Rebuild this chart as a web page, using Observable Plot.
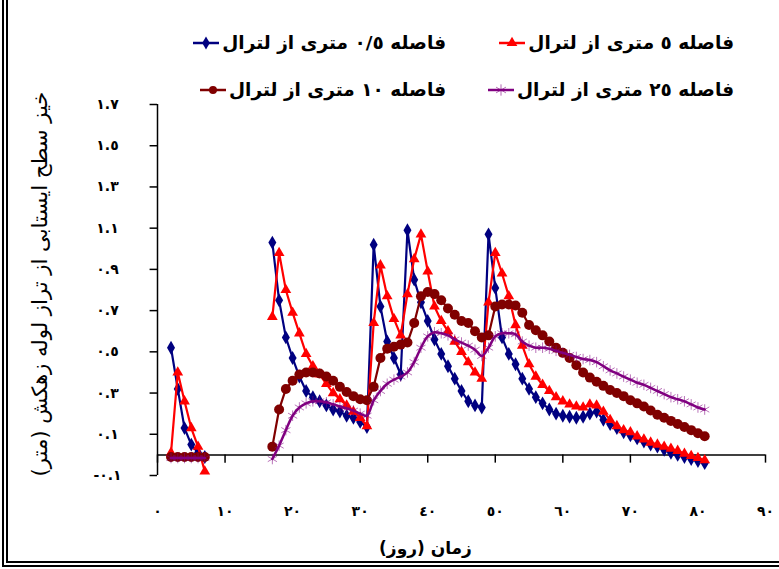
<!DOCTYPE html>
<html><head><meta charset="utf-8">
<script src="https://cdn.jsdelivr.net/npm/d3@7"></script>
<script src="https://cdn.jsdelivr.net/npm/@observablehq/plot@0.6"></script>
<style>
html,body{margin:0;padding:0;background:#fff;}
#wrap{position:relative;width:779px;height:569px;overflow:hidden;font-family:"DejaVu Sans",sans-serif;}
#frame{position:absolute;left:2px;top:-10px;width:820px;height:577px;border-left:6px double #000;border-bottom:6px double #000;box-sizing:border-box;pointer-events:none;}
.leg{position:absolute;direction:rtl;white-space:nowrap;font-size:18.5px;font-weight:bold;display:flex;align-items:center;gap:3px;color:#000;}
.leg svg{display:block;}
#chart{position:absolute;left:0;top:0;}
</style></head>
<body><div id="wrap"><div id="chart"></div><div id="frame"></div></div>
<script>
const days = [1,2,3,4,5,6,7,8,9,10,11,12,13,14,15,16,17,18,19,20,21,22,23,24,25,26,27,28,29,30,31,32,33,34,35,36,37,38,39,40,41,42,43,44,45,46,47,48,49,50,51,52,53,54,55,56,57,58,59,60,61,62,63,64,65,66,67,68,69,70,71,72,73,74,75,76,77,78,79,80,81];

const s05 = [null,0.52,0.32,0.13,0.05,0.01,-0.01,
 null,null,null,null,null,null,null,null,null,
 1.03,0.75,0.57,0.47,0.38,0.31,0.28,0.26,0.24,0.22,0.21,0.19,0.18,0.16,0.135,
 1.02,0.72,0.55,0.47,0.39,
 1.09,0.85,0.74,0.65,0.56,0.49,0.43,0.37,0.31,0.26,0.24,0.23,
 1.07,0.81,0.57,0.49,0.44,0.37,0.32,0.28,0.25,0.22,0.20,0.19,0.185,0.18,0.185,0.20,0.21,0.17,0.15,0.13,0.11,0.095,0.08,0.065,0.05,0.04,0.025,0.01,0.0,-0.01,-0.02,-0.03,-0.04];

const s5 = [null,0.01,0.40,0.26,0.13,0.04,-0.08,
 null,null,null,null,null,null,null,null,null,
 0.67,0.98,0.80,0.69,0.59,0.49,0.43,0.39,0.345,0.30,0.27,0.24,0.21,0.18,0.14,
 0.64,0.92,0.77,0.66,0.58,
 0.78,0.95,1.07,0.89,0.72,0.65,0.60,0.55,0.50,0.45,0.40,0.37,
 0.74,0.98,0.88,0.77,0.63,0.53,0.44,0.38,0.34,0.31,0.28,0.26,0.245,0.235,0.23,0.245,0.24,0.21,0.17,0.14,0.12,0.11,0.09,0.075,0.06,0.05,0.04,0.03,0.02,0.006,-0.005,-0.015,-0.026];

const s10 = [null,-0.01,-0.01,-0.01,-0.01,-0.01,-0.01,
 null,null,null,null,null,null,null,null,null,
 0.04,0.22,0.32,0.36,0.39,0.40,0.40,0.395,0.38,0.36,0.33,0.305,0.285,0.27,0.265,
 0.33,0.47,0.515,0.525,0.535,
 0.545,0.64,0.77,0.79,0.78,0.75,0.71,0.68,0.65,0.64,0.60,0.57,
 0.58,0.72,0.73,0.73,0.725,0.69,0.63,0.605,0.58,0.55,0.52,0.495,0.47,0.435,0.40,0.375,0.355,0.335,0.315,0.30,0.285,0.265,0.25,0.235,0.215,0.195,0.18,0.165,0.15,0.135,0.12,0.105,0.09];

const s25 = [null,-0.015,-0.015,-0.015,-0.015,-0.015,-0.015,
 null,null,null,null,null,null,null,null,null,
 -0.02,0.045,0.12,0.19,0.23,0.25,0.26,0.26,0.255,0.245,0.235,0.225,0.215,0.20,0.19,
 0.265,0.31,0.345,0.365,0.38,
 0.40,0.45,0.52,0.575,0.595,0.59,0.58,0.56,0.545,0.53,0.51,0.48,
 0.52,0.575,0.59,0.59,0.585,0.55,0.53,0.52,0.52,0.515,0.505,0.495,0.485,0.475,0.465,0.46,0.45,0.43,0.41,0.395,0.38,0.365,0.35,0.34,0.325,0.31,0.295,0.28,0.27,0.26,0.245,0.23,0.22];

const seriesNames = ["فاصله ٠/٥ متری از لترال","فاصله ٥ متری از لترال","فاصله ١٠ متری از لترال","فاصله ٢٥ متری از لترال"];
const seriesColors = ["#000080","#ff0000","#800000","#800080"];

const xTicks = [0,10,20,30,40,50,60,70,80,90];
const xTickLabels = ["٠","١٠","٢٠","٣٠","٤٠","٥٠","٦٠","٧٠","٨٠","٩٠"];
const yTicks = [-0.1,0.1,0.3,0.5,0.7,0.9,1.1,1.3,1.5,1.7];
const yTickLabels = ["-٠.١","٠.١","٠.٣","٠.٥","٠.٧","٠.٩","١.١","١.٣","١.٥","١.٧"];
const xTitle = "\u200Fزمان (روز)\u200F";
const yTitle = "\u200Fخیز سطح ایستابی از تراز لوله زهکش (متر)\u200F";

const rows = (vals) => days.map((d,i) => ({day:d, v:vals[i]}));
const d05 = rows(s05), d5 = rows(s5), d10 = rows(s10), d25 = rows(s25);
const def = d => d.v != null;

const chart = Plot.plot({
  width: 779, height: 569,
  marginLeft: 157, marginRight: 14, marginTop: 104, marginBottom: 94,
  x: {domain: [0, 90], axis: null},
  y: {domain: [-0.1, 1.7], axis: null},
  style: {fontFamily: "'DejaVu Sans', sans-serif", background: "transparent", overflow: "visible"},
  marks: [
    Plot.ruleX([0], {stroke: "#000", strokeWidth: 1.5}),
    Plot.ruleY(yTicks, {x1: -1.1, x2: 0, stroke: "#000", strokeWidth: 1.5}),
    Plot.text(yTicks, {x: 0, y: d => d, text: (d, i) => yTickLabels[i], dx: -50, fontSize: 14, fontWeight: "bold", fill: "#000"}),
    Plot.ruleY([0], {x1: 0, x2: 90, stroke: "#000", strokeWidth: 1.5}),
    Plot.ruleX(xTicks, {y1: 0, y2: -0.04, stroke: "#000", strokeWidth: 1.5}),
    Plot.text(xTicks, {x: d => d, frameAnchor: "bottom", dy: 40, text: (d, i) => xTickLabels[i], fontSize: 14, fontWeight: "bold", fill: "#000"}),
    Plot.text([xTitle], {frameAnchor: "bottom", textAnchor: "middle", dx: -36, dy: 78, text: d => d, fontSize: 17, fontWeight: "bold", fill: "#000"}),
    Plot.text([yTitle], {frameAnchor: "left", textAnchor: "middle", dx: -117, dy: -6, rotate: -90, text: d => d, fontSize: 13, fill: "#000"}),
    Plot.line(d05, {x: "day", y: "v", stroke: seriesColors[0], strokeWidth: 2.2}),
    Plot.dot(d05.filter(def), {x: "day", y: "v", symbol: "diamond", r: 4.2, fill: seriesColors[0]}),
    Plot.line(d5, {x: "day", y: "v", stroke: seriesColors[1], strokeWidth: 2.2}),
    Plot.dot(d5.filter(def), {x: "day", y: "v", symbol: "triangle", r: 4, fill: seriesColors[1]}),
    Plot.line(d10, {x: "day", y: "v", stroke: seriesColors[2], strokeWidth: 2.2}),
    Plot.dot(d10.filter(def), {x: "day", y: "v", symbol: "circle", r: 5, fill: seriesColors[2]}),
    Plot.dot(d25.filter(def), {x: "day", y: "v", symbol: "asterisk", r: 5, stroke: seriesColors[3], strokeWidth: 1, strokeOpacity: 0.55}),
    Plot.line(d25, {x: "day", y: "v", stroke: seriesColors[3], strokeWidth: 2.5, curve: "catmull-rom"})
  ]
});
document.getElementById("chart").appendChild(chart);

// fit the rotated y-axis title to the reference length (~385px)
for (const t of chart.querySelectorAll("text")) {
  if (t.textContent === yTitle) {
    const len = t.getComputedTextLength();
    if (len > 0) t.setAttribute("font-size", (13 * 385 / len).toFixed(2));
  }
}

// legend
const symbols = ["diamond", "triangle", "circle", "asterisk"];
const legendPos = [{right: 333, top: 32}, {right: 45, top: 32}, {right: 333, top: 79}, {right: 45, top: 79}];
const symMap = {diamond: d3.symbolDiamond, triangle: d3.symbolTriangle, circle: d3.symbolCircle, asterisk: d3.symbolAsterisk};
const wrap = document.getElementById("wrap");
seriesNames.forEach((name, i) => {
  const div = document.createElement("div");
  div.className = "leg";
  div.style.right = legendPos[i].right + "px";
  div.style.top = legendPos[i].top + "px";
  const span = document.createElement("span");
  span.textContent = name;
  div.appendChild(span);
  const svg = d3.create("svg").attr("width", 26).attr("height", 14);
  svg.append("line").attr("x1", 0).attr("x2", 26).attr("y1", 7).attr("y2", 7).attr("stroke", seriesColors[i]).attr("stroke-width", 2.5);
  const path = svg.append("path").attr("transform", "translate(13,7)")
    .attr("d", d3.symbol(symMap[symbols[i]], i === 3 ? 90 : 50)());
  if (i === 3) path.attr("fill", "none").attr("stroke", seriesColors[i]).attr("stroke-opacity", 0.6);
  else path.attr("fill", seriesColors[i]);
  div.appendChild(svg.node());
  wrap.appendChild(div);
});
</script>
</body></html>
